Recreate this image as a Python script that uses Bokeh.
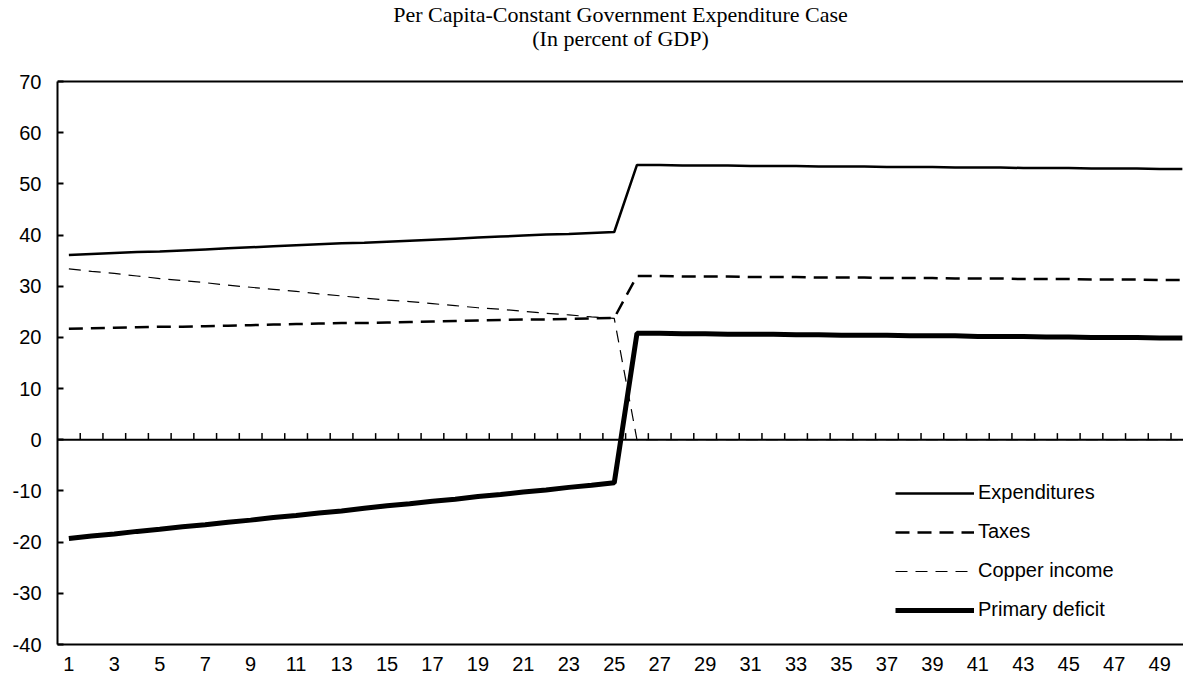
from bokeh.plotting import figure
from bokeh.models import Range1d, FixedTicker, Span, Legend, LegendItem, Label, PrintfTickFormatter
from bokeh.embed import file_html
from bokeh.resources import INLINE

categories = list(range(1, 51))
x_tick_labels = list(range(1, 50, 2))
y_ticks = [-40, -30, -20, -10, 0, 10, 20, 30, 40, 50, 60, 70]

expenditures = [36.1, 36.3, 36.5, 36.7, 36.8, 37.0, 37.2, 37.4, 37.6, 37.8,
                 38.0, 38.2, 38.4, 38.5, 38.7, 38.9, 39.1, 39.3, 39.5, 39.7,
                 39.9, 40.1, 40.2, 40.4, 40.6,
                 53.7, 53.7, 53.6, 53.6, 53.6, 53.5, 53.5, 53.5, 53.4, 53.4,
                 53.4, 53.3, 53.3, 53.3, 53.2, 53.2, 53.2, 53.1, 53.1, 53.1,
                 53.0, 53.0, 53.0, 52.9, 52.9]
taxes = [21.7, 21.8, 21.9, 22.0, 22.1, 22.1, 22.2, 22.3, 22.4, 22.5,
         22.6, 22.7, 22.8, 22.8, 22.9, 23.0, 23.1, 23.2, 23.3, 23.4,
         23.5, 23.5, 23.6, 23.7, 23.8,
         32.0, 32.0, 31.9, 31.9, 31.9, 31.8, 31.8, 31.8, 31.7, 31.7,
         31.7, 31.6, 31.6, 31.6, 31.5, 31.5, 31.5, 31.4, 31.4, 31.4,
         31.3, 31.3, 31.3, 31.2, 31.2]
copper_income = [33.4, 32.9, 32.5, 32.0, 31.5, 31.1, 30.7, 30.2, 29.8, 29.4,
                 29.0, 28.5, 28.1, 27.7, 27.3, 27.0, 26.6, 26.2, 25.8, 25.5,
                 25.1, 24.7, 24.4, 24.0, 23.7,
                 0, 0, 0, 0, 0, 0, 0, 0, 0, 0,
                 0, 0, 0, 0, 0, 0, 0, 0, 0, 0,
                 0, 0, 0, 0, 0]
primary_deficit = [-19.3, -18.8, -18.4, -17.9, -17.5, -17.0, -16.6, -16.1, -15.7, -15.2,
                   -14.8, -14.3, -13.9, -13.4, -12.9, -12.5, -12.0, -11.6, -11.1, -10.7,
                   -10.2, -9.8, -9.3, -8.9, -8.4,
                   20.8, 20.8, 20.7, 20.7, 20.6, 20.6, 20.6, 20.5, 20.5, 20.4,
                   20.4, 20.4, 20.3, 20.3, 20.3, 20.2, 20.2, 20.2, 20.1, 20.1,
                   20.0, 20.0, 20.0, 19.9, 19.9]

title_main = "Per Capita-Constant Government Expenditure Case"
title_sub = "(In percent of GDP)"

SANS = "Liberation Sans"
SERIF = "Liberation Serif"

W, H = 1183, 678
BL, BB = 57, 34
PLOT_TOP = 81                      # pixel row of the top border (value 70)
frame_h = H - BB
frame_w = W - BL
y_lo, y_hi = y_ticks[0], y_ticks[-1]
px_per_unit = (frame_h - PLOT_TOP) / (y_hi - y_lo)
y_end = y_hi + PLOT_TOP / px_per_unit   # headroom for the title inside the frame

p = figure(width=W, height=H, output_backend="svg", toolbar_location=None,
           x_range=Range1d(0.5, 50.05), y_range=Range1d(y_lo, y_end),
           min_border_left=BL, min_border_right=0, min_border_top=0,
           min_border_bottom=BB, title=None)

for txt, cy in ((title_main, 14), (title_sub, 38)):
    p.add_layout(Label(x=frame_w / 2, y=frame_h - cy, x_units="screen", y_units="screen",
                       text=txt, text_align="center", text_baseline="middle",
                       text_font=SERIF, text_font_size="22px", text_color="black"))

p.outline_line_color = None
p.xgrid.visible = False
p.ygrid.visible = False
p.background_fill_color = "white"
p.border_fill_color = "white"

xa = p.xaxis[0]
xa.ticker = FixedTicker(ticks=x_tick_labels)
xa.major_tick_in = 0
xa.major_tick_out = 0
xa.minor_tick_line_color = None
xa.axis_line_width = 2
xa.axis_line_color = "black"
xa.major_label_standoff = 12
xa.major_label_text_font = SANS
xa.major_label_text_font_size = "20px"
xa.major_label_text_color = "black"

ya = p.yaxis[0]
ya.ticker = FixedTicker(ticks=y_ticks)
ya.bounds = (y_lo, y_hi)
ya.formatter = PrintfTickFormatter(format="%d")
ya.major_tick_in = 6
ya.major_tick_out = 0
ya.major_tick_line_width = 2
ya.major_tick_line_color = "black"
ya.minor_tick_line_color = None
ya.axis_line_width = 2
ya.axis_line_color = "black"
ya.major_label_standoff = 16
ya.major_label_text_font = SANS
ya.major_label_text_font_size = "20px"
ya.major_label_text_color = "black"

# top border and zero line with category-boundary ticks
p.add_layout(Span(location=y_hi, dimension="width", line_color="black", line_width=2))
p.add_layout(Span(location=0, dimension="width", line_color="black", line_width=2))
bounds = [c + 0.5 for c in categories[:-1]]
p.segment(x0=bounds, y0=[0] * len(bounds), x1=bounds, y1=[1.3] * len(bounds),
          line_color="black", line_width=1.5)

r_exp = p.line(categories, expenditures, line_color="black", line_width=2.5)
r_tax = p.line(categories, taxes, line_color="black", line_width=2.5, line_dash="14 8")
r_cop = p.line(categories, copper_income, line_color="black", line_width=1.2, line_dash="12 8")
r_def = p.line(categories, primary_deficit, line_color="black", line_width=5)

legend = Legend(items=[
    LegendItem(label="Expenditures", renderers=[r_exp]),
    LegendItem(label="Taxes", renderers=[r_tax]),
    LegendItem(label="Copper income", renderers=[r_cop]),
    LegendItem(label="Primary deficit", renderers=[r_def]),
], location=(838, 23), border_line_color=None, background_fill_alpha=0,
    glyph_width=79, glyph_height=20, label_height=20, label_standoff=4, spacing=16,
    padding=0, margin=0, label_text_font=SANS, label_text_font_size="20px",
    label_text_color="black")
p.add_layout(legend)

open("out.html", "w").write(file_html(p, INLINE))
